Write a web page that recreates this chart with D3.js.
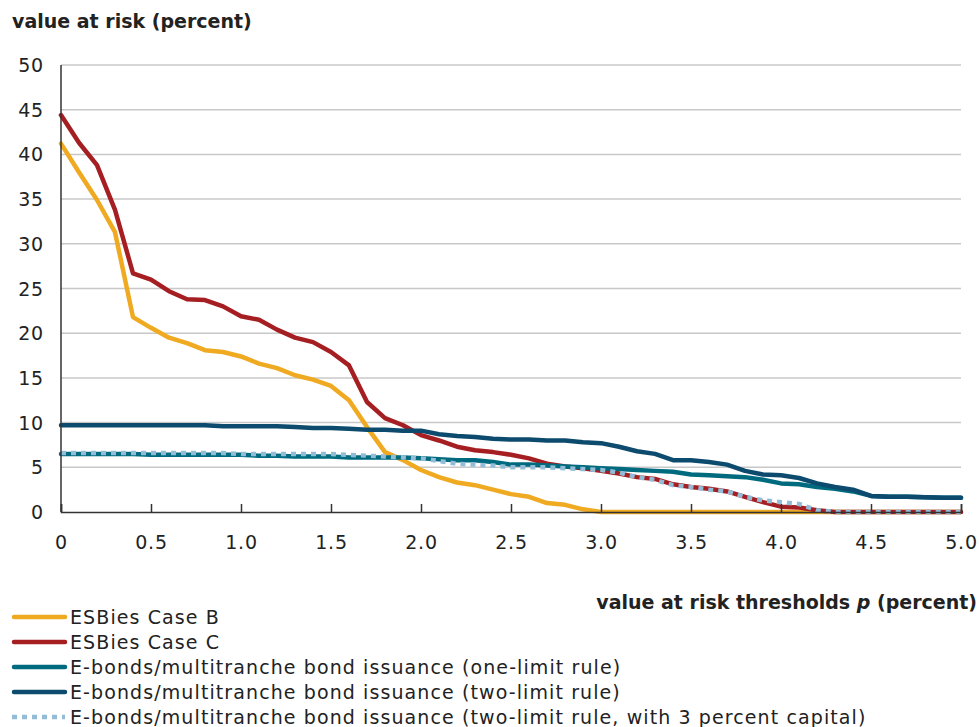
<!DOCTYPE html>
<html>
<head>
<meta charset="utf-8">
<script src="https://cdn.jsdelivr.net/npm/d3@7"></script>
<style>
  body { margin: 0; background: #fff; }
  svg { display: block; font-family: "DejaVu Sans", sans-serif; }
</style>
</head>
<body>
<div id="chart"></div>
<script>
// thresholds p (percent), 0 to 5 in steps of 0.1
const thresholds = d3.range(51).map(i => +(i / 10).toFixed(1));

const caseB = [41.2, 38.0, 34.9, 31.3, 21.8, 20.6, 19.5, 18.9, 18.1, 17.9,
  17.4, 16.6, 16.1, 15.3, 14.8, 14.1, 12.5, 9.5, 6.7, 5.8,
  4.7, 3.9, 3.3, 3.0, 2.5, 2.0, 1.7, 1.0, 0.8, 0.3,
  0, 0, 0, 0, 0, 0, 0, 0, 0, 0,
  0, 0, 0, 0, 0, 0, 0, 0, 0, 0, 0];

const caseC = [44.4, 41.3, 38.8, 33.8, 26.7, 26.0, 24.7, 23.8, 23.7, 23.0,
  21.9, 21.5, 20.4, 19.5, 19.0, 17.9, 16.4, 12.3, 10.5, 9.7,
  8.6, 8.0, 7.3, 6.9, 6.7, 6.4, 6.0, 5.4, 5.1, 4.9,
  4.6, 4.3, 3.9, 3.7, 3.1, 2.8, 2.6, 2.3, 1.7, 1.1,
  0.6, 0.5, 0.2, 0, 0, 0, 0, 0, 0, 0, 0];

const oneLimit = [6.5, 6.5, 6.5, 6.5, 6.5, 6.4, 6.4, 6.4, 6.4, 6.4,
  6.4, 6.3, 6.3, 6.2, 6.2, 6.2, 6.1, 6.1, 6.1, 6.1,
  6.0, 5.9, 5.8, 5.8, 5.6, 5.3, 5.3, 5.2, 5.1, 5.0,
  4.9, 4.8, 4.7, 4.6, 4.5, 4.2, 4.1, 4.0, 3.9, 3.6,
  3.2, 3.1, 2.8, 2.6, 2.3, 1.8, 1.7, 1.7, 1.65, 1.6, 1.6];

const twoLimit = [9.7, 9.7, 9.7, 9.7, 9.7, 9.7, 9.7, 9.7, 9.7, 9.6,
  9.6, 9.6, 9.6, 9.5, 9.4, 9.4, 9.3, 9.2, 9.2, 9.1,
  9.1, 8.7, 8.5, 8.4, 8.2, 8.1, 8.1, 8.0, 8.0, 7.8,
  7.7, 7.3, 6.8, 6.5, 5.8, 5.8, 5.6, 5.3, 4.6, 4.2,
  4.1, 3.8, 3.2, 2.8, 2.5, 1.8, 1.7, 1.7, 1.65, 1.6, 1.6];

const twoLimitCapital = [6.6, 6.6, 6.6, 6.6, 6.6, 6.6, 6.6, 6.6, 6.6, 6.6,
  6.5, 6.5, 6.5, 6.5, 6.5, 6.5, 6.4, 6.3, 6.2, 6.1,
  6.0, 5.7, 5.4, 5.3, 5.2, 5.0, 5.0, 5.0, 4.9, 4.8,
  4.7, 4.4, 3.9, 3.6, 3.0, 2.8, 2.5, 2.3, 1.7, 1.3,
  1.1, 0.9, 0.2, 0, 0, 0, 0, 0, 0, 0, 0];

const seriesNames = [
  "ESBies Case B",
  "ESBies Case C",
  "E-bonds/multitranche bond issuance (one-limit rule)",
  "E-bonds/multitranche bond issuance (two-limit rule)",
  "E-bonds/multitranche bond issuance (two-limit rule, with 3 percent capital)"
];
const seriesValues = [caseB, caseC, oneLimit, twoLimit, twoLimitCapital];
const seriesColors = ["#EFAA22", "#A51E22", "#006B7F", "#0C4A6E", "#93BDD7"];
const seriesDash = [null, null, null, null, "5,5"];

const yTicks = [0, 5, 10, 15, 20, 25, 30, 35, 40, 45, 50];
const xTicks = [0, 0.5, 1.0, 1.5, 2.0, 2.5, 3.0, 3.5, 4.0, 4.5, 5.0];

const width = 979, height = 727;
const margin = { top: 65, right: 18, bottom: 215, left: 61 };

const svg = d3.select("#chart").append("svg")
  .attr("width", width)
  .attr("height", height);

const x = d3.scaleLinear().domain([0, 5]).range([margin.left, width - margin.right]);
const y = d3.scaleLinear().domain([0, 50]).range([height - margin.bottom, margin.top]);

// gridlines
svg.append("g")
  .selectAll("line")
  .data(yTicks.filter(d => d > 0))
  .enter()
  .append("line")
  .attr("x1", x(0)).attr("x2", x(5))
  .attr("y1", d => y(d)).attr("y2", d => y(d))
  .attr("stroke", "#c8c8c8")
  .attr("stroke-width", 1.5);

// y tick labels
svg.append("g")
  .selectAll("text")
  .data(yTicks)
  .enter()
  .append("text")
  .attr("x", 44)
  .attr("y", d => y(d) + 7)
  .attr("text-anchor", "end")
  .attr("font-size", "19px")
  .attr("letter-spacing", "0.8px")
  .attr("fill", "#222")
  .text(d => d);

// lines
const line = d3.line()
  .x((d, i) => x(thresholds[i]))
  .y(d => y(d));

seriesValues.forEach((vals, k) => {
  svg.append("path")
    .datum(vals)
    .attr("d", line)
    .attr("fill", "none")
    .attr("stroke", seriesColors[k])
    .attr("stroke-width", 4.5)
    .attr("stroke-linejoin", "round")
    .attr("stroke-linecap", seriesDash[k] ? "butt" : "round")
    .attr("stroke-dasharray", seriesDash[k]);
});

// axes
svg.append("line")
  .attr("x1", x(0)).attr("x2", x(0))
  .attr("y1", y(50)).attr("y2", y(0))
  .attr("stroke", "#333").attr("stroke-width", 1.5);

const xAxis = svg.append("g")
  .attr("transform", `translate(0,${y(0)})`)
  .call(d3.axisBottom(x).tickValues(xTicks).tickSize(-8).tickPadding(24)
    .tickFormat(d => d === 0 ? "0" : d3.format(".1f")(d)));
xAxis.select(".domain").attr("stroke", "#333").attr("stroke-width", 1.5);
xAxis.selectAll(".tick line").attr("stroke", "#333").attr("stroke-width", 1.5);
xAxis.selectAll(".tick text")
  .attr("font-size", "19px")
  .attr("font-family", "\"DejaVu Sans\", sans-serif")
  .attr("letter-spacing", "0.8px")
  .attr("fill", "#222");

// titles
svg.append("text")
  .attr("x", 12).attr("y", 28)
  .attr("font-size", "19px").attr("font-weight", "bold")
  .attr("fill", "#222")
  .text("value at risk (percent)");

const xt = svg.append("text")
  .attr("x", 977).attr("y", 609)
  .attr("text-anchor", "end")
  .attr("font-size", "19px").attr("font-weight", "bold")
  .attr("fill", "#222");
xt.append("tspan").text("value at risk thresholds ");
xt.append("tspan").attr("font-style", "italic").text("p");
xt.append("tspan").text(" (percent)");

// legend
const legend = svg.append("g")
  .selectAll("g")
  .data(seriesNames)
  .enter()
  .append("g")
  .attr("transform", (d, i) => `translate(12, ${617 + i * 25})`);

legend.append("line")
  .attr("x1", (d, i) => seriesDash[i] ? 0 : 2)
  .attr("x2", 53)
  .attr("stroke", (d, i) => seriesColors[i])
  .attr("stroke-width", 4.5)
  .attr("stroke-linecap", (d, i) => seriesDash[i] ? "butt" : "round")
  .attr("stroke-dasharray", (d, i) => seriesDash[i]);

legend.append("text")
  .attr("x", 58)
  .attr("y", 7)
  .attr("font-size", "19px")
  .attr("letter-spacing", "1.1px")
  .attr("fill", "#222")
  .text(d => d);
</script>
</body>
</html>
